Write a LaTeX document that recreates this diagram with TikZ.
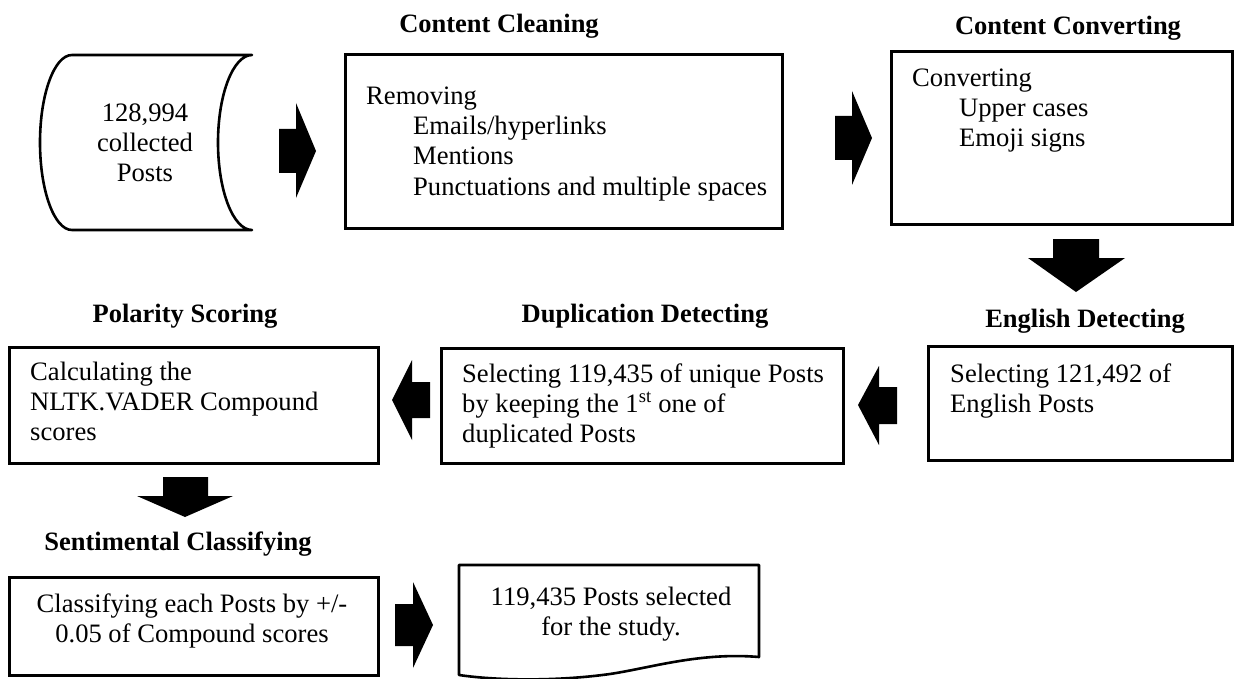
\documentclass[tikz,border=0pt]{standalone}
\usepackage{fontspec}
\setmainfont{Liberation Serif}
\begin{document}
\begin{tikzpicture}[x=1pt,y=-1pt,
  box/.style={draw, line width=2.6pt, inner sep=0pt, anchor=north west},
  shp/.style={draw, line width=2.6pt, line join=round},
  txt/.style={font=\fontsize{26.6}{30}\selectfont, inner sep=0pt},
  ttl/.style={font=\fontsize{26.5}{30}\selectfont\bfseries, inner sep=0pt, anchor=base},
  blk/.style={fill=black}]
\useasboundingbox (0,0) rectangle (1241,679);

% stored data shape
\draw[shp] (72,55) -- (252,55)
  .. controls (233.2,55) and (218,94.2) .. (218,142.5)
  .. controls (218,190.8) and (233.2,230) .. (252,230)
  -- (72,230)
  .. controls (54.3,230) and (40,190.8) .. (40,142.5)
  .. controls (40,94.2) and (54.3,55) .. (72,55) -- cycle;
\node[txt, align=center, anchor=base] (src) at (145,182) {128,994\\collected\\Posts};

% titles
\node[ttl] (tclean) at (499,33) {Content Cleaning};
\node[ttl] (tconv) at (1068,35) {Content Converting};
\node[ttl] (tpol) at (185,322) {Polarity Scoring};
\node[ttl] (tdup) at (645,322) {Duplication Detecting};
\node[ttl] (teng) at (1085,327) {English Detecting};
\node[ttl] (tsent) at (178,550) {Sentimental Classifying};

% boxes
\node[box, minimum width=437, minimum height=174] (clean) at (344,53) {};
\node[box, minimum width=341, minimum height=173] (conv) at (890,50) {};
\node[box, minimum width=369, minimum height=116] (pol) at (8,346) {};
\node[box, minimum width=402, minimum height=115] (dup) at (440,347) {};
\node[box, minimum width=304, minimum height=114] (eng) at (927,345) {};
\node[box, minimum width=369, minimum height=98] (cls) at (8,576) {};

% document shape
\coordinate (docA) at (459,565);
\draw[shp] (docA) -- (759,565) -- (759,657)
  .. controls (700,652) and (650,668) .. (610,674)
  .. controls (560,681) and (500,681) .. (459,675) -- cycle;
\node[txt, align=center, anchor=base] (doc) at (611,635) {119,435 Posts selected\\for the study.};

% texts (anchor at baseline of last line)
\node[txt, align=left, anchor=base west] (cleanx) at (366,195)
  {Removing\\\hspace*{47pt}Emails/hyperlinks\\\hspace*{47pt}Mentions\\\hspace*{47pt}Punctuations and multiple spaces};
\node[txt, align=left, anchor=base west] (convx) at (912,147)
  {Converting\\\hspace*{47pt}Upper cases\\\hspace*{47pt}Emoji signs};
\node[txt, align=left, anchor=base west] (polx) at (30,440)
  {Calculating the\\NLTK.VADER Compound\\scores};
\node[txt, align=left, anchor=base west] (dupx) at (462,442)
  {Selecting 119,435 of unique Posts\\by keeping the 1\textsuperscript{st} one of\\duplicated Posts};
\node[txt, align=left, anchor=base west] (engx) at (950,412)
  {Selecting 121,492 of\\English Posts};
\node[txt, align=center, anchor=base] (clsx) at (192,642)
  {Classifying each Posts by +/-\\0.05 of Compound scores};

% block arrows
\fill[blk] (279,129) -- (296,129) -- (296,103) -- (316,151) -- (296,198) -- (296,173) -- (279,173) -- cycle;
\fill[blk] (835,116) -- (852,116) -- (852,91) -- (872,138) -- (852,185) -- (852,160) -- (835,160) -- cycle;
\fill[blk] (1053,239) -- (1099,239) -- (1099,258) -- (1125,258) -- (1076,292) -- (1028,258) -- (1053,258) -- cycle;
\fill[blk] (897,387) -- (879,387) -- (879,366) -- (858,405) -- (879,445) -- (879,424) -- (897,424) -- cycle;
\fill[blk] (430,382) -- (412,382) -- (412,360) -- (392,400) -- (412,440) -- (412,418) -- (430,418) -- cycle;
\fill[blk] (163,477) -- (208,477) -- (208,496) -- (233,496) -- (185,517) -- (137,496) -- (163,496) -- cycle;
\fill[blk] (395,604) -- (413,604) -- (413,582) -- (433,625) -- (413,668) -- (413,646) -- (395,646) -- cycle;
\end{tikzpicture}
\end{document}
